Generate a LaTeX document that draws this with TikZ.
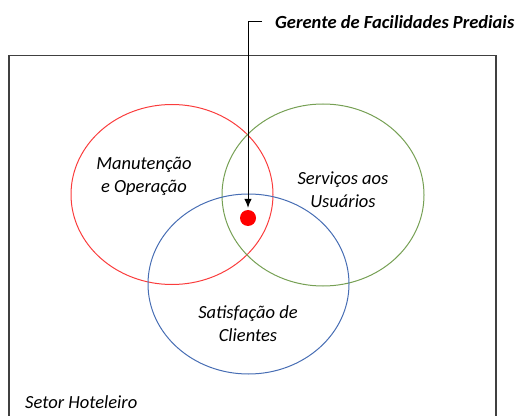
\documentclass[tikz,border=0pt]{standalone}
\usepackage{fontspec}
\setmainfont{Carlito}
\usetikzlibrary{arrows.meta}
\definecolor{vred}{RGB}{250,60,60}
\definecolor{vgreen}{RGB}{118,160,84}
\definecolor{vblue}{RGB}{72,110,180}
\tikzset{
  lbl/.style={font=\fontsize{18.5}{23}\selectfont\itshape, align=center, inner sep=0pt},
}
\begin{document}
\begin{tikzpicture}[>={Latex[length=9pt,width=7.5pt]}, x=1pt, y=1pt]
\useasboundingbox (0,0) rectangle (518,415);
\draw[line width=1.2pt, black!75] (9,-5)--(9,359.5)--(496,359.5)--(496,-5);
\draw[vred, line width=1pt] (172,220.5) ellipse (101 and 90);
\draw[vgreen, line width=1pt] (323,220) ellipse (101 and 91);
\draw[vblue, line width=1pt] (248.5,131) ellipse (100.5 and 90);
\node[lbl] (manut) at (144,238.5){Manutenção\\e Operação};
\node[lbl] (serv) at (343,225.5){Serviços aos\\Usuários};
\node[lbl] (satisf) at (248,91){Satisfação de\\Clientes};
\node[lbl, anchor=west] (setor) at (25,13){Setor Hoteleiro};
\node[lbl, font=\fontsize{18.5}{23}\selectfont\bfseries\itshape, anchor=west] (gerente) at (275,393){Gerente de Facilidades Prediais};
\node[circle, fill=red, minimum size=16pt, inner sep=0pt] (dot) at (248,197){};
\draw[->, line width=1pt, shorten <=13pt, shorten >=2pt] (gerente.west) -| (dot.north);

\end{tikzpicture}
\end{document}
